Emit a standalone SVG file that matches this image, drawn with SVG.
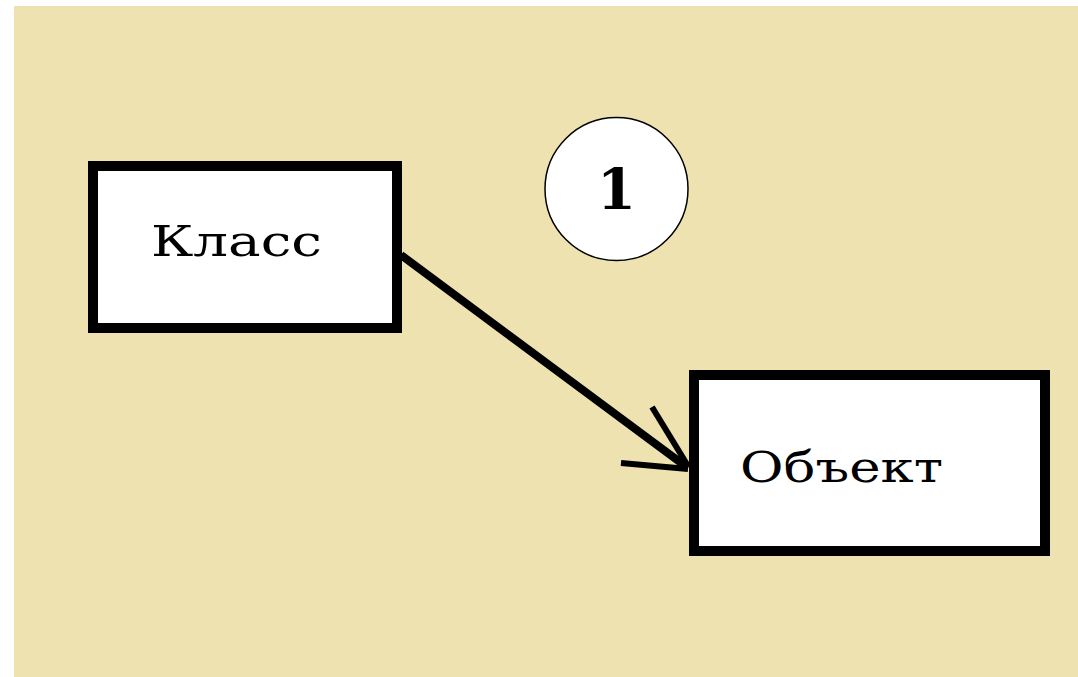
<svg xmlns="http://www.w3.org/2000/svg" width="1078" height="677" viewBox="0 0 1078 677">
  <style>
    .box { fill: #ffffff; stroke: #000000; stroke-width: 10; }
    .label { font-family: "DejaVu Serif", "Liberation Serif", serif; fill: #000000; }
    .edge { fill: none; stroke: #000000; stroke-linecap: butt; }
  </style>
  <!-- canvas -->
  <rect x="0" y="0" width="1078" height="677" fill="#ffffff"/>
  <rect x="14" y="6" width="1064" height="671" fill="#EEE2B0"/>

  <!-- connectors -->
  <g id="connectors">
    <line class="edge" x1="401" y1="255" x2="688" y2="468" stroke-width="8"/>
    <line class="edge" x1="652" y1="407" x2="688" y2="466" stroke-width="6"/>
    <line class="edge" x1="621" y1="463" x2="688" y2="469" stroke-width="6"/>
  </g>

  <!-- node: Класс -->
  <g id="node-class">
    <rect class="box" x="93" y="166" width="304" height="162"/>
    <text class="label" x="151" y="256" font-size="43" textLength="171" lengthAdjust="spacingAndGlyphs">Класс</text>
  </g>

  <!-- node: Объект -->
  <g id="node-object">
    <rect class="box" x="694" y="375" width="351" height="176"/>
    <text class="label" x="740" y="482" font-size="43" textLength="203" lengthAdjust="spacingAndGlyphs">Объект</text>
  </g>

  <!-- marker: 1 -->
  <g id="node-marker">
    <circle cx="616.5" cy="189" r="71.5" fill="#ffffff" stroke="#000000" stroke-width="1.5"/>
    <text class="label" x="616.5" y="209" font-size="56" font-weight="bold" text-anchor="middle">1</text>
  </g>
</svg>
